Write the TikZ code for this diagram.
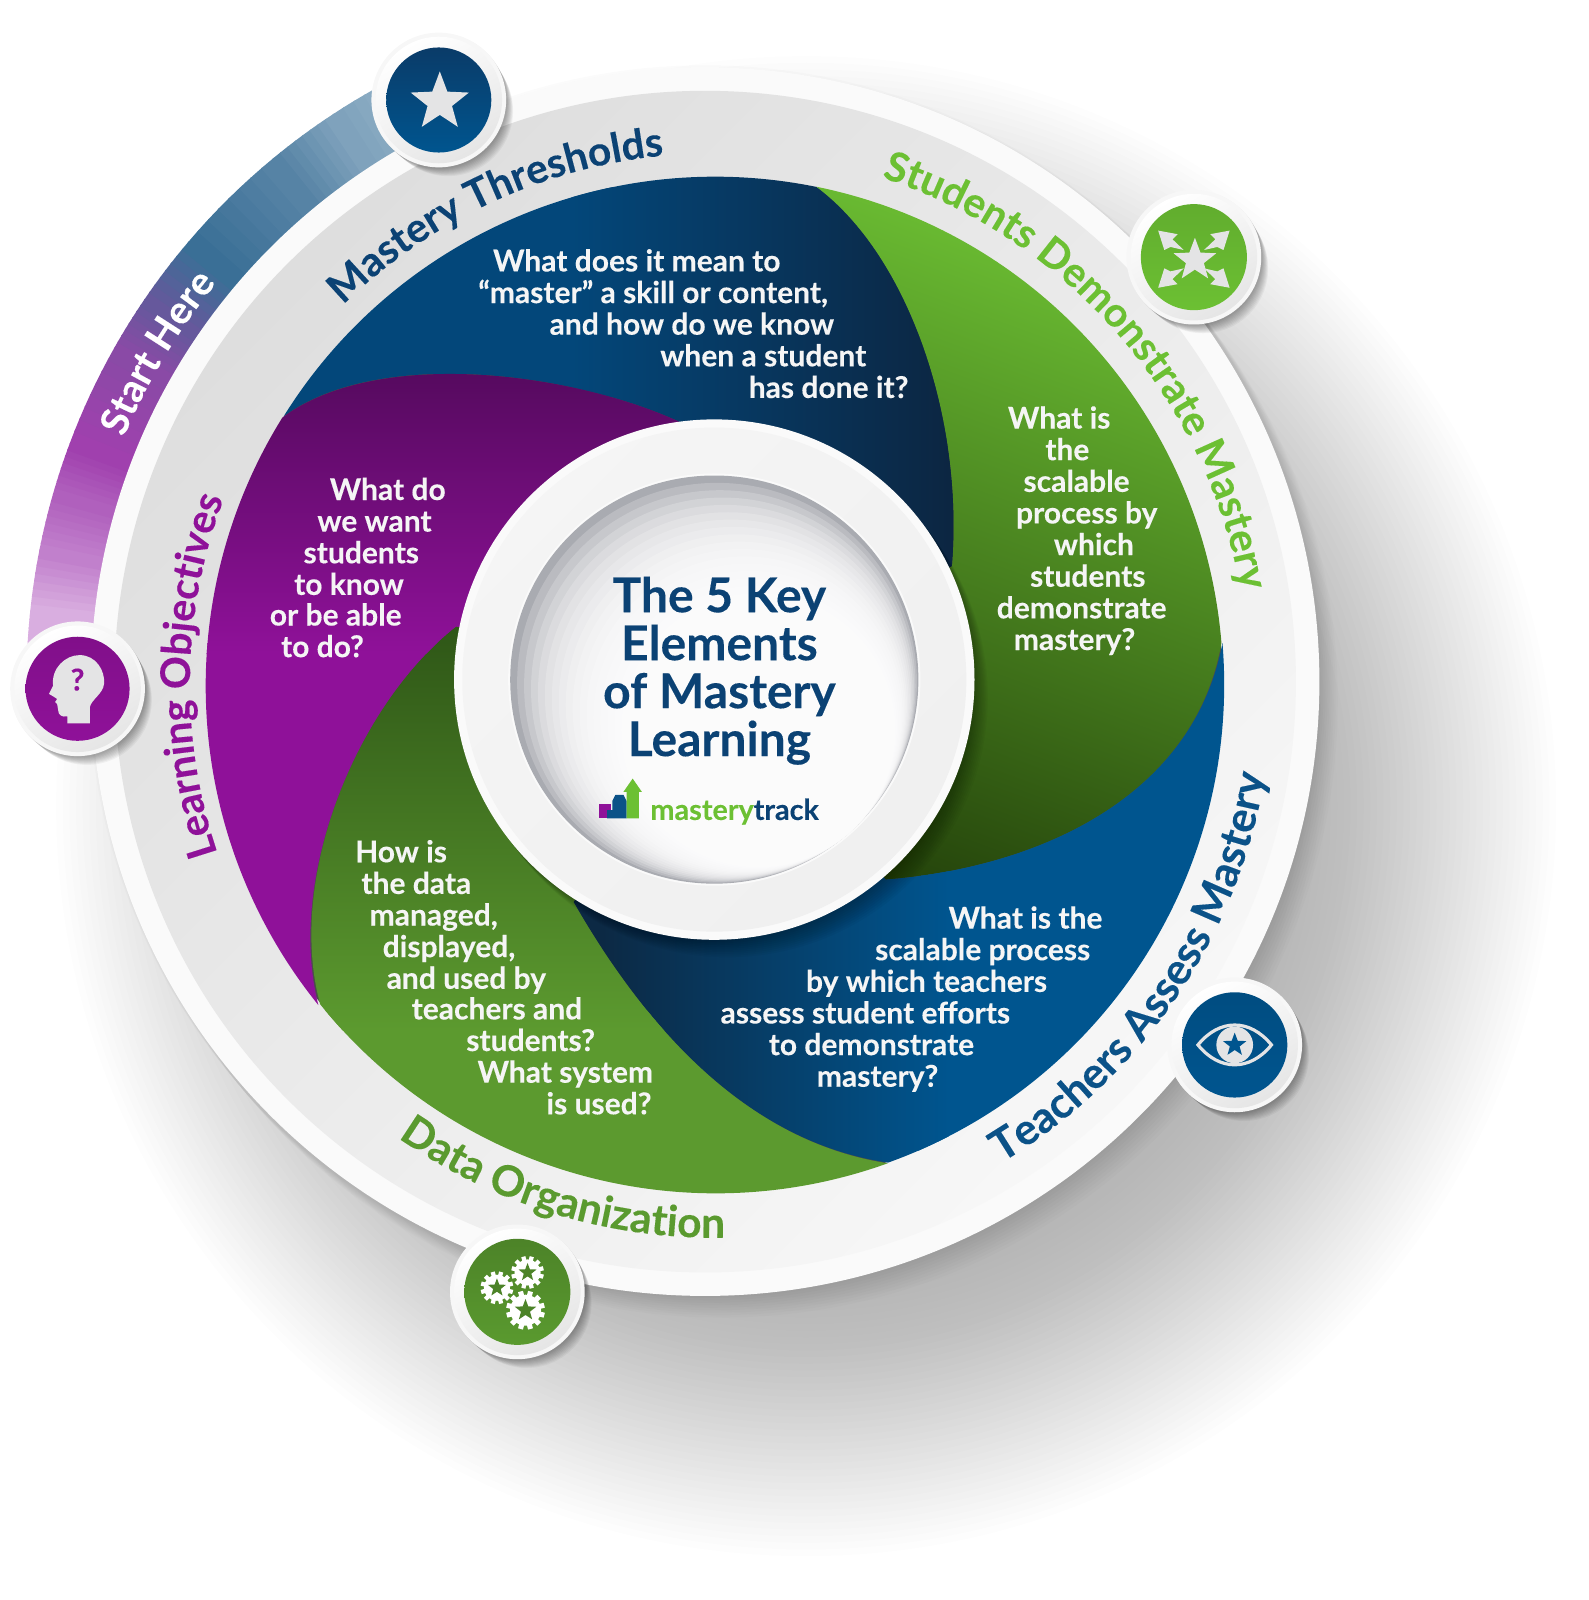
\documentclass[tikz,border=0pt]{standalone}
\usepackage{fontspec}
\setmainfont{Lato}[BoldFeatures={FakeBold=0.2}]
\usetikzlibrary{decorations.text}
\definecolor{navy}{HTML}{0B4274}
\definecolor{leaf}{HTML}{6CC033}
\definecolor{moss}{HTML}{5A9A2F}
\definecolor{plum}{HTML}{8F1199}
\definecolor{sea}{HTML}{0B5288}
\definecolor{glyph}{HTML}{E4E4E5}
\definecolor{cupgrey}{HTML}{A9ABB1}
\definecolor{sa}{HTML}{D9AEE0}
\definecolor{sb}{HTML}{C180CC}
\definecolor{sc}{HTML}{B060BD}
\definecolor{sd}{HTML}{A040AE}
\definecolor{se}{HTML}{8A4AA6}
\definecolor{sf}{HTML}{66589C}
\definecolor{sg}{HTML}{3A6F96}
\definecolor{sh}{HTML}{5683A5}
\definecolor{si}{HTML}{7FA2BC}
\definecolor{sj}{HTML}{97B6CB}
\definecolor{bluetopa}{HTML}{03477A}
\definecolor{bluetopb}{HTML}{0C2642}
\definecolor{purpa}{HTML}{560A5F}
\definecolor{purpb}{HTML}{8F1199}
\definecolor{dgreena}{HTML}{2D5416}
\definecolor{dgreenb}{HTML}{5C9A2F}
\definecolor{bgreena}{HTML}{6EC234}
\definecolor{bgreenb}{HTML}{1F3A08}
\definecolor{blowa}{HTML}{0C2944}
\definecolor{blowb}{HTML}{00558F}
\tikzset{
 qtext/.style={font=\bfseries\fontsize{15}{16}\selectfont,text=white!96!black,anchor=base,inner sep=0pt},
 title/.style={font=\bfseries\fontsize{24}{25}\selectfont,text=navy,anchor=base,inner sep=0pt}
}
\newcounter{ln}
\newcommand\qline[3]{\stepcounter{ln}\node[qtext] (ql\theln) at (#1,#2) {#3};}
\newcommand\arctext[7]{% centre angle, half span, radius, dir(+1 cw,-1 ccw), colour, size, text
 \pgfmathsetmacro\aaa{#1-#4*#2}\pgfmathsetmacro\aab{#1+#4*#2}
 \path[decorate,decoration={text along path,text align=center,text color=#5,
   text={|\bfseries\fontsize{#6}{#6}\selectfont|#7}}]
   (\aaa:#3) arc[start angle=\aaa,end angle=\aab,radius=#3];}
\newcommand\mystar[4]{\begin{scope}[shift={(#1,#2)}]\fill[#4] (-90:#3) -- (-54:{0.42*#3}) -- (-18:#3) -- (18:{0.42*#3}) -- (54:#3) -- (90:{0.42*#3}) -- (126:#3) -- (162:{0.42*#3}) -- (198:#3) -- (234:{0.42*#3}) -- cycle;\end{scope}}
\newcommand\bandseg[4]{\foreach \i in {0,...,7}{%
  \pgfmathsetmacro\aa{#1+(#2-#1)*\i/8}%
  \pgfmathsetmacro\ab{#1+(#2-#1)*(\i+1)/8+0.15}%
  \pgfmathtruncatemacro\m{\i*100/7}%
  \fill[#4!\m!#3] (\aa:599) arc[start angle=\aa,end angle=\ab,radius=599] -- (\ab:665) arc[start angle=\ab,end angle=\aa,radius=665] -- cycle;}}
\newcommand\iconbase[5]{% cx cy r colA colB
 \foreach \i in {1,...,9}{\fill[black,opacity=.045] ({#1+\i*1.0},{#2+\i*1.2}) circle ({66.5-\i*.3});}
 \fill[white!97!black] (#1,#2) circle (66);
 \shade[top color=white,bottom color=white!90!black,shading angle=30] (#1,#2) circle (62);
 \shade[top color=#4,bottom color=#5] (#1,#2) circle (#3);}
\newcommand\gear[3]{\begin{scope}[shift={(#1,#2)}]
 \fill[white] (0,0) circle ({#3*.8});
 \foreach \k in {0,30,...,150}{\fill[white,rotate=\k+15] ({-#3*.13},{-#3}) rectangle ({#3*.13},{#3});}
 \end{scope}\mystar{#1}{#2}{#3*.58}{moss!85!black}}
\newcommand\burst[1]{\begin{scope}[shift={(1170,254)},#1]
 \fill[glyph] (-35,-28) -- (-16,-24.5) -- (-21,-19.5) -- (-10,-9) -- (-23,-12) -- (-29,-9) -- cycle;\end{scope}}
\begin{document}
\begin{tikzpicture}[x=0.5102pt,y=-0.5102pt]
\useasboundingbox (0,0) rectangle (1557,1568);
% cast shadow
\foreach \i in {0,...,39}{\fill[black,opacity=.0085] (790,790) circle ({735-\i*6.5});}
\foreach \i in {0,...,8}{\fill[black,opacity=.014] ({691+\i*2},{668+\i*2.4}) circle (604);}
% start band
\begin{scope}[shift={(691,668)}]
\bandseg{183}{185.9}{sa}{sa}
\bandseg{185.9}{191.1}{sa}{sb}
\bandseg{191.1}{196}{sb}{sc}
\bandseg{196}{200.5}{sc}{sd}
\bandseg{200.5}{209.4}{sd}{se}
\bandseg{209.4}{214.2}{se}{sf}
\bandseg{214.2}{220.3}{sf}{sg}
\bandseg{220.3}{230.4}{sg}{sh}
\bandseg{230.4}{236.7}{sh}{si}
\bandseg{236.7}{245}{si}{sj}
\end{scope}
% ring
\fill[white!98!black] (691,668) circle (602);
\shade[top color=white!87!black,bottom color=white!97!black,shading angle=45] (691,668) circle (579);
% blades
\fill[black!70] (701,671) circle (497);
% navy blade
\begin{scope}
 \clip (278,408) arc[start angle=211.9,end angle=281.5,radius=498] .. controls (890,250) and (945,410) .. (933,555) -- (700,666) -- (665,413) .. controls (560,365) and (370,340) .. (278,408) -- cycle;
 \fill[bluetopa] (200,150) rectangle (600,700);
 \fill[bluetopb] (900,150) rectangle (1000,700);
 \shade[left color=bluetopa,right color=bluetopb] (560,150) rectangle (930,700);
\end{scope}
% bright green blade
\begin{scope}
 \clip (800,183) arc[start angle=281.5,end angle=355.3,radius=498] .. controls (1170,780) and (1020,850) .. (868,862) -- (700,666) -- (933,555) .. controls (945,410) and (890,250) .. (800,183) -- cycle;
 \shade[top color=bgreena,middle color=bgreena,bottom color=bgreenb,shading angle=-20] (700,170) rectangle (1210,960);
\end{scope}
% lower blue blade
\begin{scope}
 \clip (1198,630) arc[start angle=-4.7,end angle=70.2,radius=498] .. controls (740,1120) and (640,1020) .. (562,884) -- (700,666) -- (868,862) .. controls (1020,850) and (1170,780) .. (1198,630) -- cycle;
 \fill[blowb] (900,600) rectangle (1250,1200);
 \fill[blowa] (500,600) rectangle (600,1200);
 \shade[left color=blowa,right color=blowb] (590,600) rectangle (930,1200);
\end{scope}
% data green blade
\begin{scope}
 \clip (870,1140) arc[start angle=70.2,end angle=141.1,radius=498] .. controls (280,860) and (350,690) .. (447,614) -- (700,666) -- (562,884) .. controls (640,1020) and (740,1120) .. (870,1140) -- cycle;
 \fill[dgreenb] (250,990) rectangle (900,1200);
 \shade[top color=dgreena,bottom color=dgreenb] (250,600) rectangle (900,1010);
\end{scope}
% purple blade
\begin{scope}
 \clip (312,985) arc[start angle=141.1,end angle=211.9,radius=498] .. controls (370,340) and (560,365) .. (665,413) -- (700,666) -- (447,614) .. controls (350,690) and (280,860) .. (312,985) -- cycle;
 \fill[purpb] (180,630) rectangle (720,1000);
 \shade[top color=purpa,bottom color=purpb] (180,364) rectangle (720,640);
\end{scope}
% hub
\foreach \i in {1,...,10}{\fill[black,opacity=.03] ({700+\i*1.3},{666+\i*1.7}) circle (255);}
\fill[white!98!black] (700,666) circle (255);
\shade[top color=white!96!black,bottom color=white!94!black,shading angle=45] (700,666) circle (247);
\fill[black!2!white] (700,666) circle (202);
\fill[cupgrey] (700,666) circle (200);
\foreach \i in {1,...,26}{\fill[white,opacity=.2] ({700+\i*2.7},{666+\i*3.1}) circle ({200-\i*4.1});}
% title
\node[title] (t1) at (705,600) {The 5 Key};
\node[title] (t2) at (705,647) {Elements};
\node[title] (t3) at (705,694) {of Mastery};
\node[title] (t4) at (705,741) {Learning};
% logo
\fill[plum] (587,788) rectangle (599,802);
\fill[sea] (595,794) -- (600,794) -- (600,785) -- (603,779) -- (611,779) -- (614,785) -- (614,802) -- (595,802) -- cycle;
\fill[leaf] (614,802) -- (614,776) -- (611,776) -- (620,763) -- (629,776) -- (626,776) -- (626,802) -- cycle;
\node[font=\bfseries\fontsize{14.4}{15}\selectfont,anchor=base west,inner sep=0pt] (logotext) at (637,803.5) {\textcolor{leaf}{mastery}\textcolor{navy}{track}};
% question text
\qline{624}{266}{What does it mean to}
\qline{640}{297}{“master” a skill or content,}
\qline{678}{328}{and how do we know}
\qline{748}{359}{when a student}
\qline{812}{390}{has done it?}
\qline{1038}{420}{What is}
\qline{1046}{451}{the}
\qline{1055}{482}{scalable}
\qline{1065}{513}{process by}
\qline{1072}{544}{which}
\qline{1066}{575}{students}
\qline{1060}{606}{demonstrate}
\qline{1053}{637}{mastery?}
\qline{380}{490}{What do}
\qline{367}{521}{we want}
\qline{354}{552}{students}
\qline{342}{583}{to know}
\qline{329}{613}{or be able}
\qline{316}{644}{to do?}
\qline{393}{845}{How is}
\qline{408}{876}{the data}
\qline{425}{907}{managed,}
\qline{440}{938}{displayed,}
\qline{457}{969}{and used by}
\qline{487}{999}{teachers and}
\qline{520}{1030}{students?}
\qline{554}{1061}{What system}
\qline{587}{1092}{is used?}
\qline{1005}{910}{What is the}
\qline{963}{941}{scalable process}
\qline{908}{972}{by which teachers}
\qline{848}{1003}{assess student efforts}
\qline{854}{1034}{to demonstrate}
\qline{860}{1065}{mastery?}
% curved labels
\begin{scope}[shift={(691,668)}]
 \arctext{211}{30}{618}{1}{white}{19.5}{Start Here}
\end{scope}
\begin{scope}[shift={(701,671)}]
 \arctext{245}{35}{521}{1}{navy}{20.4}{Mastery Thresholds}
 \arctext{319}{45}{523}{1}{leaf}{20.5}{Students Demonstrate Mastery}
 \arctext{181}{35}{515}{1}{plum}{20.4}{Learning Objectives}
 \arctext{34.2}{40}{546}{-1}{sea}{21.6}{Teachers Assess Mastery}
 \arctext{107}{35}{542}{-1}{moss}{21.3}{Data Organization}
\end{scope}
% icons
\iconbase{430}{98}{51.5}{navy!90!black}{blowb}
\mystar{431}{100}{30}{glyph}
\iconbase{1170}{252}{52}{leaf!90!black}{leaf}
\mystar{1171}{255}{22}{glyph}
\burst{}
\burst{xscale=-1}
\burst{yscale=-1}
\burst{xscale=-1,yscale=-1}
\iconbase{1210}{1024}{51.6}{blowb!90!black}{blowb}
\begin{scope}[shift={(1210,1024)}]
 \draw[glyph,line width=1.6pt,miter limit=10] (-36,0) .. controls (-15,-26) and (15,-26) .. (36,0) .. controls (15,26) and (-15,26) .. (-36,0) -- cycle;
 \fill[glyph] (0,0) circle (18);
\end{scope}
\mystar{1210}{1024}{12}{blowb}
\iconbase{507}{1266}{52}{moss!85!black}{moss}
\gear{487}{1262}{16}
\gear{517}{1247}{16}
\gear{515}{1284}{19}
\iconbase{76}{675}{51}{plum!90!black}{plum}
\begin{scope}[shift={(76,675)}]
 \fill[glyph] (12,34) -- (-10,34) -- (-10,27) .. controls (-15,28) and (-19,26) .. (-19,21) -- (-20,15) -- (-22,13) -- (-20,10) -- (-23,8) -- (-28,5) -- (-24,-3) .. controls (-26,-20) and (-12,-33) .. (2,-33) .. controls (18,-33) and (27,-18) .. (26,-5) .. controls (25,5) and (14,10) .. (12,18) -- cycle;
 \node[font=\bfseries\fontsize{15}{15}\selectfont,text=plum,inner sep=0pt] (q) at (0,-9) {?};
\end{scope}
\end{tikzpicture}
\end{document}
